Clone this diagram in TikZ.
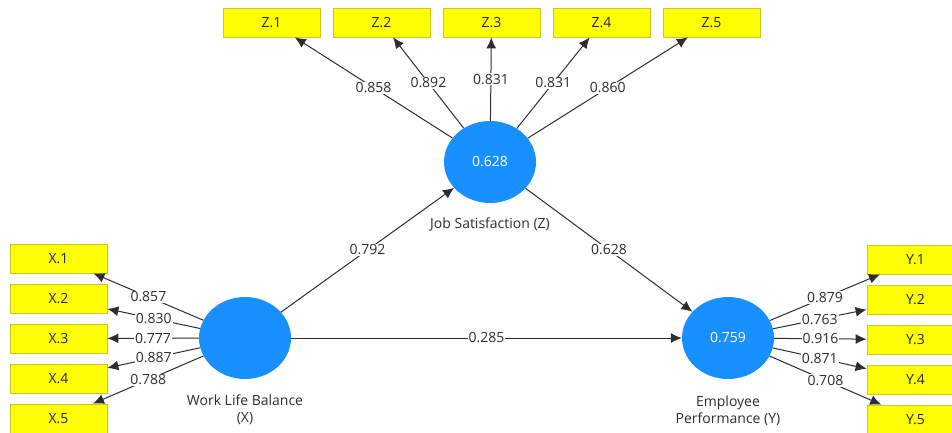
\documentclass[tikz,border=0pt]{standalone}
\usepackage{fontspec}
\setmainfont{Open Sans}
\usetikzlibrary{shapes.geometric,arrows.meta}
\definecolor{lvblue}{RGB}{25,144,255}
\definecolor{indfill}{RGB}{255,255,0}
\definecolor{indborder}{RGB}{200,200,40}
\definecolor{edgecol}{RGB}{45,45,45}
\definecolor{txtcol}{RGB}{45,45,45}
\begin{document}
\begin{tikzpicture}[x=1pt,y=-1pt,
  lvar/.style={ellipse, fill=lvblue, minimum width=92pt, minimum height=82pt, inner sep=0pt, text=white, font=\fontsize{14}{16}\selectfont},
  ind/.style={rectangle, fill=indfill, draw=indborder, line width=0.8pt, minimum width=97pt, minimum height=29pt, inner sep=0pt, text=black!85, font=\fontsize{14}{16}\selectfont},
  pth/.style={draw=edgecol, line width=1pt, -{Latex[length=11pt,width=10pt]}},
  coef/.style={fill=white, inner sep=1pt, text=txtcol, font=\fontsize{14}{16}\selectfont},
  capt/.style={text=txtcol, align=center, font=\fontsize{14}{17}\selectfont}
]
\useasboundingbox (0,0) rectangle (952,432);
% latent variables
\node[lvar] (Z) at (490,162) {0.628};
\node[lvar] (X) at (245,338) {};
\node[lvar] (Y) at (728,338) {0.759};
\node[capt] (zc) at (490,224) {Job Satisfaction (Z)};
\node[capt] (xc) at (245,410) {Work Life Balance\\(X)};
\node[capt] (yc) at (728,411) {Employee\\Performance (Y)};
% indicators
\foreach \i in {1,...,5} {
  \node[ind] (z\i) at ({271.5+110*(\i-1)},22.5) {Z.\i};
  \node[ind] (x\i) at (58.5,{258.5+40*(\i-1)}) {X.\i};
  \node[ind] (y\i) at (915.5,{259.5+40*(\i-1)}) {Y.\i};
}
% outer loadings
\draw[pth] (Z) -- node[coef]{0.858} (z1);
\draw[pth] (Z) -- node[coef]{0.892} (z2);
\draw[pth] (Z) -- node[coef]{0.831} (z3);
\draw[pth] (Z) -- node[coef]{0.831} (z4);
\draw[pth] (Z) -- node[coef]{0.860} (z5);
\draw[pth] (X) -- node[coef]{0.857} (x1);
\draw[pth] (X) -- node[coef]{0.830} (x2);
\draw[pth] (X) -- node[coef]{0.777} (x3);
\draw[pth] (X) -- node[coef]{0.887} (x4);
\draw[pth] (X) -- node[coef]{0.788} (x5);
\draw[pth] (Y) -- node[coef]{0.879} (y1);
\draw[pth] (Y) -- node[coef]{0.763} (y2);
\draw[pth] (Y) -- node[coef]{0.916} (y3);
\draw[pth] (Y) -- node[coef]{0.871} (y4);
\draw[pth] (Y) -- node[coef]{0.708} (y5);
% structural paths
\draw[pth] (X) -- node[coef]{0.792} (Z);
\draw[pth] (Z) -- node[coef]{0.628} (Y);
\draw[pth] (X) -- node[coef]{0.285} (Y);
\end{tikzpicture}
\end{document}
